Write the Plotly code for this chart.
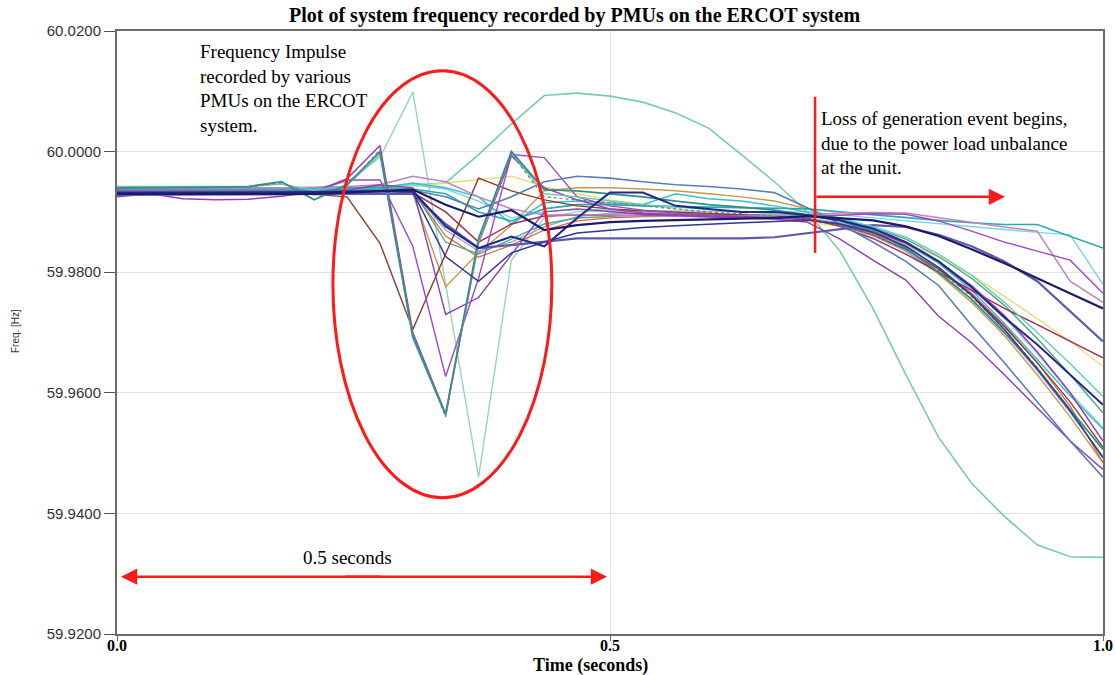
import plotly.graph_objects as go

time_s = [0.0000, 0.0333, 0.0667, 0.1000, 0.1333, 0.1667, 0.2000, 0.2333, 0.2667, 0.3000,
          0.3333, 0.3667, 0.4000, 0.4333, 0.4667, 0.5000, 0.5333, 0.5667, 0.6000, 0.6333,
          0.6667, 0.7000, 0.7333, 0.7667, 0.8000, 0.8333, 0.8667, 0.9000, 0.9333, 0.9667, 1.0000]
x_tick_vals = [0.0, 0.5, 1.0]
x_tick_text = ["0.0", "0.5", "1.0"]
y_tick_vals = [59.92, 59.94, 59.96, 59.98, 60.0, 60.02]

arc_green = [59.9935, 59.9935, 59.9936, 59.9936, 59.9937, 59.9938, 59.9938, 59.9940, 59.9942, 59.9945,
             59.9948, 59.9995, 60.0046, 60.0093, 60.0097, 60.0092, 60.0082, 60.0064, 60.0039, 59.9995,
             59.9950, 59.9900, 59.9835, 59.9740, 59.9630, 59.9526, 59.9450, 59.9395, 59.9348, 59.9328, 59.9327]
spike_green = [59.9938, 59.9938, 59.9937, 59.9938, 59.9939, 59.9940, 59.9939, 59.9950, 59.9990, 60.0099,
               59.9780, 59.9460, 59.9820, 59.9890, 59.9900, 59.9902, 59.9900, 59.9898, 59.9896, 59.9895,
               59.9893, 59.9890, 59.9882, 59.9868, 59.9845, 59.9815, 59.9775, 59.9725, 59.9665, 59.9600, 59.9542]
teal_dip = [59.9940, 59.9940, 59.9940, 59.9941, 59.9942, 59.9950, 59.9920, 59.9945, 60.0000, 59.9694,
            59.9564, 59.9856, 60.0000, 59.9937, 59.9935, 59.9930, 59.9925, 59.9918, 59.9912, 59.9908,
            59.9903, 59.9895, 59.9885, 59.9868, 59.9840, 59.9800, 59.9755, 59.9700, 59.9640, 59.9572, 59.9506]
aqua_dip = [59.9942, 59.9942, 59.9941, 59.9941, 59.9942, 59.9946, 59.9936, 59.9944, 59.9995, 59.9690,
            59.9562, 59.9850, 59.9998, 59.9930, 59.9925, 59.9918, 59.9912, 59.9908, 59.9904, 59.9900,
            59.9897, 59.9893, 59.9887, 59.9876, 59.9858, 59.9830, 59.9795, 59.9750, 59.9700, 59.9648, 59.9594]
dotted_gray = [59.9939, 59.9939, 59.9939, 59.9940, 59.9941, 59.9948, 59.9928, 59.9944, 60.0003, 59.9697,
               59.9560, 59.9853, 59.9996, 59.9925, 59.9920, 59.9915, 59.9910, 59.9905, 59.9900, 59.9897,
               59.9893, 59.9888, 59.9878, 59.9862, 59.9838, 59.9803, 59.9760, 59.9705, 59.9642, 59.9570, 59.9492]
purple_peak = [59.9925, 59.9930, 59.9922, 59.9920, 59.9921, 59.9926, 59.9933, 59.9955, 60.0010, 59.9700,
               59.9565, 59.9848, 59.9993, 59.9940, 59.9920, 59.9905, 59.9898, 59.9895, 59.9893, 59.9892,
               59.9890, 59.9887, 59.9880, 59.9868, 59.9848, 59.9818, 59.9778, 59.9728, 59.9668, 59.9600, 59.9520]
purple_mid = [59.9930, 59.9931, 59.9932, 59.9932, 59.9932, 59.9932, 59.9933, 59.9953, 59.9953, 59.9843,
              59.9627, 59.9790, 59.9995, 59.9990, 59.9925, 59.9910, 59.9903, 59.9898, 59.9895, 59.9893,
              59.9890, 59.9892, 59.9895, 59.9897, 59.9896, 59.9885, 59.9868, 59.9850, 59.9835, 59.9820, 59.9765]
purple_early = [59.9934, 59.9934, 59.9935, 59.9935, 59.9934, 59.9935, 59.9935, 59.9936, 59.9945, 59.9940,
                59.9730, 59.9758, 59.9830, 59.9900, 59.9905, 59.9900, 59.9896, 59.9894, 59.9892, 59.9890,
                59.9888, 59.9883, 59.9855, 59.9820, 59.9787, 59.9727, 59.9683, 59.9630, 59.9575, 59.9520, 59.9473]
brown = [59.9930, 59.9931, 59.9931, 59.9930, 59.9930, 59.9930, 59.9929, 59.9925, 59.9848, 59.9705,
         59.9830, 59.9956, 59.9935, 59.9920, 59.9910, 59.9905, 59.9902, 59.9900, 59.9898, 59.9896,
         59.9893, 59.9888, 59.9878, 59.9862, 59.9838, 59.9805, 59.9762, 59.9710, 59.9650, 59.9585, 59.9510]
tan = [59.9940, 59.9940, 59.9940, 59.9940, 59.9940, 59.9941, 59.9940, 59.9940, 59.9938, 59.9930,
       59.9776, 59.9832, 59.9878, 59.9935, 59.9940, 59.9940, 59.9938, 59.9935, 59.9930, 59.9925,
       59.9918, 59.9905, 59.9888, 59.9865, 59.9835, 59.9797, 59.9750, 59.9695, 59.9630, 59.9560, 59.9484]
yellow = [59.9938, 59.9938, 59.9938, 59.9938, 59.9938, 59.9938, 59.9938, 59.9939, 59.9940, 59.9942,
          59.9948, 59.9953, 59.9959, 59.9942, 59.9930, 59.9920, 59.9912, 59.9905, 59.9898, 59.9893,
          59.9888, 59.9883, 59.9876, 59.9865, 59.9848, 59.9825, 59.9795, 59.9760, 59.9723, 59.9685, 59.9644]
mauve = [59.9939, 59.9939, 59.9940, 59.9940, 59.9940, 59.9940, 59.9941, 59.9942, 59.9945, 59.9959,
         59.9950, 59.9925, 59.9905, 59.9895, 59.9895, 59.9895, 59.9893, 59.9892, 59.9892, 59.9893,
         59.9894, 59.9895, 59.9898, 59.9899, 59.9898, 59.9890, 59.9882, 59.9875, 59.9868, 59.9785, 59.9750]
navy_thick = [59.9930, 59.9930, 59.9930, 59.9930, 59.9930, 59.9930, 59.9930, 59.9932, 59.9935, 59.9937,
              59.9912, 59.9892, 59.9903, 59.9870, 59.9878, 59.9883, 59.9885, 59.9886, 59.9887, 59.9888,
              59.9890, 59.9893, 59.9890, 59.9886, 59.9876, 59.9860, 59.9838, 59.9815, 59.9790, 59.9765, 59.9740]
navy_two = [59.9931, 59.9931, 59.9931, 59.9931, 59.9931, 59.9932, 59.9933, 59.9934, 59.9935, 59.9935,
            59.9876, 59.9840, 59.9859, 59.9843, 59.9890, 59.9932, 59.9932, 59.9910, 59.9905, 59.9900,
            59.9900, 59.9895, 59.9886, 59.9872, 59.9850, 59.9818, 59.9775, 59.9725, 59.9680, 59.9630, 59.9580]
navy_three = [59.9932, 59.9932, 59.9932, 59.9932, 59.9932, 59.9933, 59.9933, 59.9934, 59.9934, 59.9933,
              59.9826, 59.9785, 59.9832, 59.9850, 59.9865, 59.9870, 59.9874, 59.9877, 59.9880, 59.9882,
              59.9884, 59.9886, 59.9880, 59.9866, 59.9843, 59.9808, 59.9762, 59.9705, 59.9640, 59.9570, 59.9492]
slate_thick = [59.9928, 59.9928, 59.9928, 59.9929, 59.9929, 59.9929, 59.9930, 59.9930, 59.9931, 59.9930,
               59.9880, 59.9840, 59.9845, 59.9850, 59.9856, 59.9856, 59.9856, 59.9856, 59.9856, 59.9856,
               59.9858, 59.9865, 59.9872, 59.9878, 59.9875, 59.9862, 59.9843, 59.9818, 59.9785, 59.9735, 59.9685]
steel_top = [59.9936, 59.9936, 59.9936, 59.9936, 59.9936, 59.9936, 59.9936, 59.9937, 59.9937, 59.9936,
             59.9925, 59.9905, 59.9925, 59.9950, 59.9959, 59.9956, 59.9950, 59.9945, 59.9942, 59.9938,
             59.9932, 59.9907, 59.9880, 59.9850, 59.9818, 59.9778, 59.9712, 59.9650, 59.9585, 59.9520, 59.9460]
teal_slow = [59.9939, 59.9939, 59.9939, 59.9939, 59.9939, 59.9939, 59.9939, 59.9940, 59.9941, 59.9938,
             59.9930, 59.9900, 59.9885, 59.9905, 59.9912, 59.9912, 59.9910, 59.9909, 59.9908, 59.9907,
             59.9906, 59.9905, 59.9900, 59.9895, 59.9890, 59.9886, 59.9882, 59.9879, 59.9879, 59.9859, 59.9840]
cyan_light = [59.9937, 59.9937, 59.9937, 59.9937, 59.9937, 59.9937, 59.9937, 59.9938, 59.9940, 59.9945,
              59.9938, 59.9918, 59.9890, 59.9900, 59.9904, 59.9903, 59.9902, 59.9902, 59.9901, 59.9900,
              59.9900, 59.9900, 59.9895, 59.9890, 59.9885, 59.9880, 59.9875, 59.9870, 59.9866, 59.9862, 59.9780]
maroon = [59.9933, 59.9933, 59.9933, 59.9933, 59.9933, 59.9933, 59.9933, 59.9934, 59.9935, 59.9932,
          59.9900, 59.9850, 59.9880, 59.9893, 59.9895, 59.9895, 59.9894, 59.9893, 59.9892, 59.9891,
          59.9890, 59.9889, 59.9876, 59.9856, 59.9830, 59.9800, 59.9770, 59.9740, 59.9713, 59.9685, 59.9658]
cyan_mid = [59.9937, 59.9937, 59.9937, 59.9937, 59.9937, 59.9937, 59.9937, 59.9938, 59.9940, 59.9948,
            59.9940, 59.9925, 59.9880, 59.9915, 59.9918, 59.9915, 59.9912, 59.9930, 59.9922, 59.9918,
            59.9910, 59.9900, 59.9890, 59.9874, 59.9850, 59.9815, 59.9770, 59.9715, 59.9655, 59.9595, 59.9540]
green_mid = [59.9936, 59.9936, 59.9936, 59.9936, 59.9936, 59.9936, 59.9936, 59.9937, 59.9938, 59.9937,
             59.9850, 59.9830, 59.9855, 59.9880, 59.9890, 59.9893, 59.9895, 59.9896, 59.9896, 59.9896,
             59.9895, 59.9893, 59.9886, 59.9874, 59.9855, 59.9826, 59.9790, 59.9745, 59.9690, 59.9630, 59.9567]
red_orange = [59.9934, 59.9934, 59.9934, 59.9934, 59.9934, 59.9934, 59.9934, 59.9935, 59.9935, 59.9934,
              59.9860, 59.9825, 59.9845, 59.9870, 59.9885, 59.9890, 59.9892, 59.9893, 59.9893, 59.9892,
              59.9891, 59.9889, 59.9880, 59.9865, 59.9842, 59.9808, 59.9765, 59.9712, 59.9650, 59.9578, 59.9484]
light_blue = [59.9935, 59.9935, 59.9935, 59.9935, 59.9935, 59.9935, 59.9935, 59.9936, 59.9936, 59.9935,
              59.9870, 59.9835, 59.9850, 59.9875, 59.9892, 59.9898, 59.9897, 59.9896, 59.9895, 59.9894,
              59.9892, 59.9888, 59.9878, 59.9860, 59.9835, 59.9800, 59.9755, 59.9700, 59.9637, 59.9567, 59.9495]

# (data, colour, width, dash)
series = [
    (arc_green, "#7ccba8", 1.6, "solid"),
    (spike_green, "#8fd8b8", 1.4, "solid"),
    (yellow, "#e8dc7a", 1.4, "solid"),
    (tan, "#c99a45", 1.4, "solid"),
    (light_blue, "#8aa8d8", 1.3, "solid"),
    (red_orange, "#e0603a", 1.2, "solid"),
    (green_mid, "#4aa87c", 1.4, "solid"),
    (cyan_light, "#7ad6e0", 1.4, "solid"),
    (cyan_mid, "#39c0cf", 1.5, "solid"),
    (teal_slow, "#2aa9ad", 1.6, "solid"),
    (maroon, "#9e2f55", 1.5, "solid"),
    (brown, "#8b3b2b", 1.4, "solid"),
    (mauve, "#bb85bd", 1.5, "solid"),
    (purple_early, "#8a3fae", 1.4, "solid"),
    (purple_mid, "#a347c2", 1.4, "solid"),
    (purple_peak, "#9a3db5", 1.5, "solid"),
    (steel_top, "#5a7db5", 1.6, "solid"),
    (slate_thick, "#5b5bab", 2.2, "solid"),
    (aqua_dip, "#63cdb9", 1.4, "solid"),
    (teal_dip, "#2f8f8a", 1.8, "solid"),
    (dotted_gray, "#7a7a7a", 1.2, "dot"),
    (navy_three, "#34349a", 1.5, "solid"),
    (navy_two, "#26268a", 2.0, "solid"),
    (navy_thick, "#1b1b6b", 2.2, "solid"),
]

fig = go.Figure()
for vals, col, w, dash in series:
    fig.add_trace(go.Scatter(x=time_s, y=vals, mode="lines",
                             line=dict(color=col, width=w, dash=dash),
                             hoverinfo="skip", showlegend=False))

SERIF = "Liberation Serif"
SANS = "Liberation Sans"
RED = "#ff1a1a"

fig.update_layout(
    width=1115, height=675,
    margin=dict(l=117, r=12, t=31, b=41, autoexpand=False),
    paper_bgcolor="white", plot_bgcolor="white",
    showlegend=False,
)
fig.update_xaxes(
    range=[0, 1], tickvals=x_tick_vals, showticklabels=False,
    showgrid=True, gridcolor="#e2e2e2", gridwidth=1, zeroline=False,
    showline=True, linecolor="#6a6a6a", linewidth=2, mirror=True,
    ticks="outside", ticklen=5, tickcolor="#6a6a6a",
)
fig.update_yaxes(
    range=[59.92, 60.02], tickvals=y_tick_vals, tickformat=".4f",
    showgrid=True, gridcolor="#e2e2e2", gridwidth=1, zeroline=False,
    showline=True, linecolor="#6a6a6a", linewidth=2, mirror=True,
    ticks="outside", ticklen=11, tickcolor="#555555",
    tickfont=dict(family=SANS, size=15, color="#333333"),
)

# x tick labels (bold serif, placed just under the axis)
for tv, tt in zip(x_tick_vals, x_tick_text):
    fig.add_annotation(text="<b>" + tt + "</b>", xref="x", yref="paper", x=tv, y=-0.0199,
                       showarrow=False, xanchor="center", yanchor="middle",
                       font=dict(family=SERIF, size=16, color="black"))

# Title and axis titles
fig.add_annotation(text="<b>Plot of system frequency recorded by PMUs on the ERCOT system</b>",
                   xref="paper", yref="paper", x=0.4635, y=1.0249, showarrow=False,
                   xanchor="center", yanchor="middle",
                   font=dict(family=SERIF, size=20, color="black"))
fig.add_annotation(text="<b>Time (seconds)</b>", xref="paper", yref="paper",
                   x=0.4807, y=-0.0520, showarrow=False, xanchor="center", yanchor="middle",
                   font=dict(family=SERIF, size=18, color="black"))
fig.add_annotation(text="Freq. [Hz]", xref="paper", yref="paper", x=-0.1024, y=0.5025,
                   textangle=-90, showarrow=False, xanchor="center", yanchor="middle",
                   font=dict(family=SANS, size=10, color="#333333"))

# Text callouts
fig.add_annotation(text="Frequency Impulse<br>recorded by various<br>PMUs on the ERCOT<br>system.",
                   xref="paper", yref="paper", x=0.0822, y=0.987, showarrow=False,
                   xanchor="left", yanchor="top", align="left",
                   font=dict(family=SERIF, size=19, color="black"))
fig.add_annotation(text="Loss of generation event begins,<br>due to the power load unbalance<br>at the unit.",
                   xref="paper", yref="paper", x=0.7120, y=0.876, showarrow=False,
                   xanchor="left", yanchor="top", align="left",
                   font=dict(family=SERIF, size=19, color="black"))
fig.add_annotation(text="0.5 seconds", xref="x", yref="y", x=0.234, y=59.9327,
                   showarrow=False, xanchor="center", yanchor="middle",
                   font=dict(family=SERIF, size=19, color="black"))

# Red ellipse around impulse
fig.add_shape(type="circle", xref="x", yref="y", x0=0.219, x1=0.441, y0=59.9426, y1=60.0134,
              line=dict(color=RED, width=3))
# Red vertical marker at event start
fig.add_shape(type="line", xref="x", yref="y", x0=0.708, x1=0.708, y0=59.9832, y1=60.0091,
              line=dict(color=RED, width=2.5))
# Arrow to the right from event start
fig.add_annotation(x=0.9006, y=59.9925, ax=0.708, ay=59.9925, xref="x", yref="y",
                   axref="x", ayref="y", text="", showarrow=True,
                   arrowhead=2, arrowsize=1.3, arrowwidth=2.5, arrowcolor=RED)
# Double arrow for 0.5 seconds (two overlapping halves)
fig.add_annotation(x=0.004, y=59.9295, ax=0.27, ay=59.9295, xref="x", yref="y",
                   axref="x", ayref="y", text="", showarrow=True,
                   arrowhead=2, arrowsize=1.3, arrowwidth=2.5, arrowcolor=RED)
fig.add_annotation(x=0.497, y=59.9295, ax=0.23, ay=59.9295, xref="x", yref="y",
                   axref="x", ayref="y", text="", showarrow=True,
                   arrowhead=2, arrowsize=1.3, arrowwidth=2.5, arrowcolor=RED)

fig.write_html("out.html")
